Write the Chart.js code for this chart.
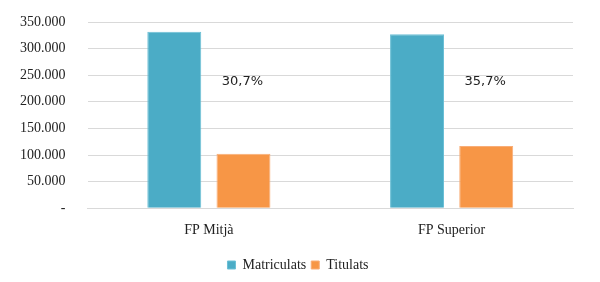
<!DOCTYPE html>
<html>
<head>
<meta charset="utf-8">
<script src="https://cdn.jsdelivr.net/npm/chart.js@4"></script>
<style>
  body { margin: 0; background: #fff; }
  #contenedor { width: 600px; height: 282px; }
</style>
</head>
<body>
<div id="contenedor"><canvas id="grafico"></canvas></div>
<script>
// Datos del gráfico
const categorias = ['FP Mitjà', 'FP Superior'];
const matriculats = [331500, 327000];
const titulats = [102500, 117000];
const percentatges = ['30,7%', '35,7%'];
const altPercentatge = 238000; // valor de l'eix on va el text del percentatge

// Format amb punts de milers i guió per al zero
function formatNumero(v) {
    if (v === 0) return '-';
    return String(v).replace(/\B(?=(\d{3})+(?!\d))/g, '.');
}

// Plugin per escriure el percentatge damunt de cada grup
const etiquetesPercentatge = {
    id: 'etiquetesPercentatge',
    afterDatasetsDraw(chart) {
        const ctx = chart.ctx;
        const meta = chart.getDatasetMeta(1);
        const y = chart.scales.y.getPixelForValue(altPercentatge);
        ctx.save();
        ctx.font = '13px "DejaVu Sans"';
        ctx.fillStyle = '#222';
        ctx.textAlign = 'center';
        ctx.textBaseline = 'middle';
        percentatges.forEach((p, i) => {
            ctx.fillText(p, meta.data[i].x - 1, y);
        });
        ctx.restore();
    }
};

// Desplaçar una mica la llegenda cap a la dreta
const mouLlegenda = {
    id: 'mouLlegenda',
    afterLayout(chart) {
        chart.legend.left += 3;
        chart.legend.right += 3;
    }
};

const serif = '"Liberation Serif", "Times New Roman", serif';

new Chart(document.getElementById('grafico'), {
    type: 'bar',
    data: {
        labels: categorias,
        datasets: [
            { label: 'Matriculats', data: matriculats, backgroundColor: '#4BACC6', borderColor: '#6cc0d6', borderWidth: 1 },
            { label: 'Titulats', data: titulats, backgroundColor: '#F79646', borderColor: '#f9ad77', borderWidth: 1 }
        ]
    },
    options: {
        responsive: true,
        maintainAspectRatio: false,
        animation: false,
        categoryPercentage: 0.57,
        barPercentage: 0.78,
        layout: { padding: { left: 17, right: 27, top: 22, bottom: 0 } },
        scales: {
            x: {
                grid: { display: false, drawTicks: false },
                border: { color: '#d9d9d9', width: 1 },
                ticks: { color: '#222', font: { family: serif, size: 14 }, padding: 14 }
            },
            y: {
                min: 0,
                max: 350000,
                // marques invisibles per separar les etiquetes de l'àrea
                grid: { color: '#d9d9d9', drawTicks: true, tickLength: 19, tickColor: 'rgba(0,0,0,0)' },
                border: { display: false },
                ticks: {
                    stepSize: 50000,
                    color: '#222',
                    font: { family: serif, size: 14 },
                    padding: 3,
                    callback: v => formatNumero(v)
                }
            }
        },
        plugins: {
            legend: {
                position: 'bottom',
                labels: {
                    boxWidth: 8,
                    boxHeight: 8,
                    padding: 5,
                    color: '#222',
                    font: { family: serif, size: 14 }
                }
            },
            tooltip: { enabled: false }
        }
    },
    plugins: [etiquetesPercentatge, mouLlegenda]
});
</script>
</body>
</html>
